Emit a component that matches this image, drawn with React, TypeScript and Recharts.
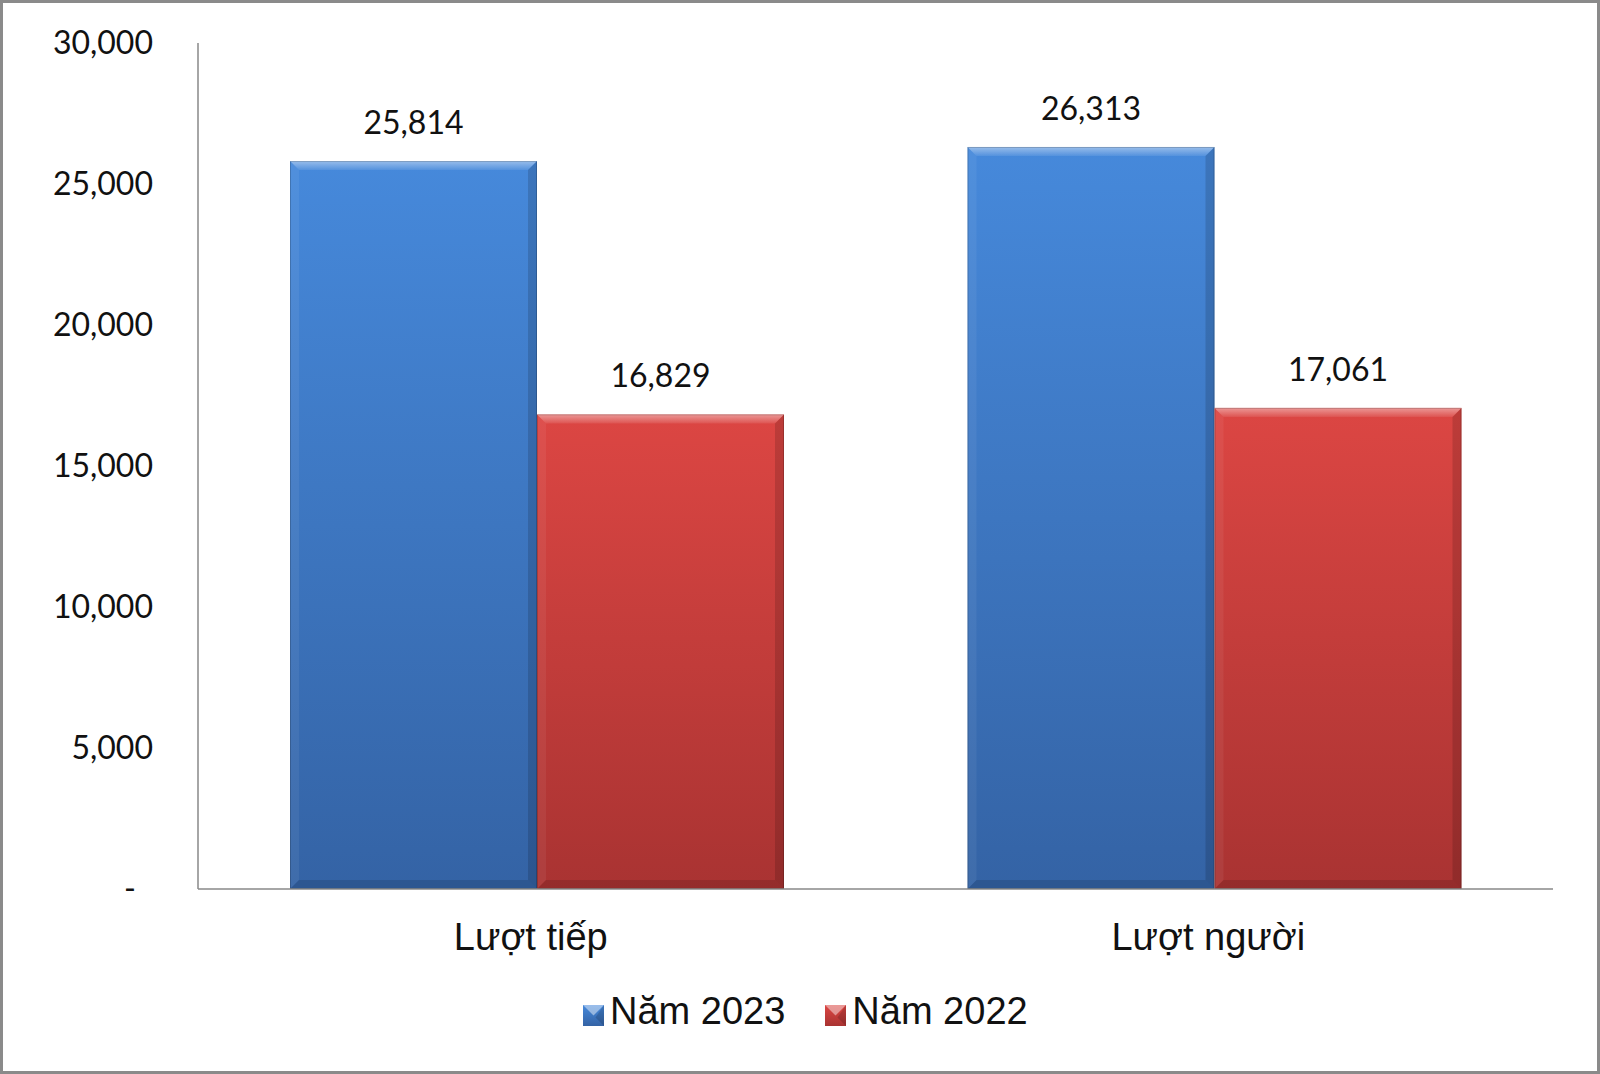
import React from "react";
import { BarChart, Bar, XAxis, YAxis, LabelList, Legend } from "recharts";

const categories = ["Lượt tiếp", "Lượt người"];
const nam2023 = [25814, 26313];
const nam2022 = [16829, 17061];
const yTicks = [0, 5000, 10000, 15000, 20000, 25000, 30000];
const seriesNames = ["Năm 2023", "Năm 2022"];

const data = categories.map((name, i) => ({
  name,
  y2023: nam2023[i],
  y2022: nam2022[i],
}));

const BLUE_TOP = "#4689db";
const BLUE_BOTTOM = "#3463a5";
const RED_TOP = "#dc4643";
const RED_BOTTOM = "#a93332";

const fmt = (v: number) => v.toLocaleString("en-US");

const makeBevelBar = (top: string, bottom: string, id: string) => (props: any) => {
  const { x, y, width: w, height: h, index } = props;
  if (!h || h <= 0) return null;
  const b = Math.min(9, w / 2, h / 2);
  const gid = `${id}-${index}`;
  const hid = `${id}-hl-${index}`;
  return (
    <g>
      <defs>
        <linearGradient id={gid} x1="0" y1="0" x2="0" y2="1">
          <stop offset="0%" stopColor={top} />
          <stop offset="100%" stopColor={bottom} />
        </linearGradient>
        <linearGradient id={hid} x1="0" y1="0" x2="0" y2="1">
          <stop offset="0%" stopColor="#ffffff" stopOpacity={0.45} />
          <stop offset="100%" stopColor="#ffffff" stopOpacity={0.08} />
        </linearGradient>
      </defs>
      <rect x={x} y={y} width={w} height={h} fill={`url(#${gid})`} />
      <polygon
        points={`${x},${y} ${x + w},${y} ${x + w - b},${y + b} ${x + b},${y + b}`}
        fill={`url(#${hid})`}
      />
      <polygon
        points={`${x},${y} ${x + b},${y + b} ${x + b},${y + h - b} ${x},${y + h}`}
        fill="#ffffff"
        fillOpacity={0.06}
      />
      <polygon
        points={`${x + w},${y} ${x + w},${y + h} ${x + w - b},${y + h - b} ${x + w - b},${y + b}`}
        fill="#000000"
        fillOpacity={0.14}
      />
      <polygon
        points={`${x},${y + h} ${x + b},${y + h - b} ${x + w - b},${y + h - b} ${x + w},${y + h}`}
        fill="#000000"
        fillOpacity={0.12}
      />
      <rect x={x + 0.5} y={y + 0.5} width={w - 1} height={h - 1} fill="none" stroke="#000" strokeOpacity={0.18} />
    </g>
  );
};

const YTick = (props: any) => {
  const { x, y, payload } = props;
  const v = payload.value as number;
  return (
    <text
      x={v === 0 ? x - 17 : x}
      y={y}
      dy="0.35em"
      textAnchor="end"
      fill="#111"
      fontFamily="Lato, 'Open Sans', sans-serif"
      fontSize={32}
    >
      {v === 0 ? "-" : fmt(v)}
    </text>
  );
};

const XTick = (props: any) => {
  const { x, y, payload } = props;
  return (
    <text
      x={x - 6}
      y={y}
      dy="0.71em"
      textAnchor="middle"
      fill="#111"
      fontFamily="'Liberation Sans', Arial, sans-serif"
      fontSize={38}
    >
      {payload.value}
    </text>
  );
};

const LegendIcon = ({ top, bottom }: { top: string; bottom: string }) => (
  <svg width={21} height={21} style={{ display: "block" }}>
    <defs>
      <linearGradient id={`lg-${top}`} x1="0" y1="0" x2="0" y2="1">
        <stop offset="0%" stopColor={top} />
        <stop offset="100%" stopColor={bottom} />
      </linearGradient>
    </defs>
    <rect x={0} y={0} width={21} height={21} fill={`url(#lg-${top})`} />
    <polygon points="0,0 21,0 10.5,10.5" fill="#ffffff" fillOpacity={0.45} />
    <polygon points="21,0 21,21 12.5,12.5" fill="#000" fillOpacity={0.15} />
  </svg>
);

const LegendContent = () => {
  const colors = [
    [BLUE_TOP, BLUE_BOTTOM],
    [RED_TOP, RED_BOTTOM],
  ];
  return (
    <div style={{ display: "flex", alignItems: "center" }}>
      {seriesNames.map((name, i) => (
        <div
          key={name}
          style={{ display: "flex", alignItems: "center", marginRight: i === 0 ? 40 : 0 }}
        >
          <div style={{ marginTop: 8, marginRight: 6 }}>
            <LegendIcon top={colors[i][0]} bottom={colors[i][1]} />
          </div>
          <span
            style={{
              fontFamily: "'Liberation Sans', Arial, sans-serif",
              fontSize: 38,
              lineHeight: "38px",
              color: "#111",
            }}
          >
            {name}
          </span>
        </div>
      ))}
    </div>
  );
};

export default function App() {
  return (
    <div
      style={{
        position: "absolute",
        left: 0,
        top: 0,
        width: 1600,
        height: 1074,
        boxSizing: "border-box",
        border: "3px solid #8a8a8a",
        background: "#ffffff",
      }}
    >
      <BarChart
        width={1594}
        height={1068}
        data={data}
        margin={{ top: 40, right: 44, bottom: 152, left: 0 }}
        barCategoryGap={92}
        barGap={0}
      >
        <XAxis
          dataKey="name"
          height={30}
          axisLine={{ stroke: "#888888", strokeWidth: 1.5 }}
          tickLine={false}
          tickSize={0}
          tickMargin={34}
          tick={<XTick />}
          interval={0}
        />
        <YAxis
          width={195}
          domain={[0, 30000]}
          ticks={yTicks}
          axisLine={{ stroke: "#888888", strokeWidth: 1.5 }}
          tickLine={false}
          tickSize={0}
          tickMargin={45}
          tick={<YTick />}
          interval={0}
        />
        <Legend
          layout="vertical"
          align="center"
          verticalAlign="middle"
          content={<LegendContent />}
          wrapperStyle={{ left: 580, top: 989, width: 600, height: 44 }}
        />
        <Bar
          dataKey="y2023"
          name={seriesNames[0]}
          fill={BLUE_TOP}
          shape={makeBevelBar(BLUE_TOP, BLUE_BOTTOM, "blue")}
          isAnimationActive={false}
        >
          <LabelList
            dataKey="y2023"
            position="top"
            offset={27}
            formatter={(v: any) => fmt(Number(v))}
            fill="#111"
            fontFamily="Lato, 'Open Sans', sans-serif"
            fontSize={32}
          />
        </Bar>
        <Bar
          dataKey="y2022"
          name={seriesNames[1]}
          fill={RED_TOP}
          shape={makeBevelBar(RED_TOP, RED_BOTTOM, "red")}
          isAnimationActive={false}
        >
          <LabelList
            dataKey="y2022"
            position="top"
            offset={27}
            formatter={(v: any) => fmt(Number(v))}
            fill="#111"
            fontFamily="Lato, 'Open Sans', sans-serif"
            fontSize={32}
          />
        </Bar>
      </BarChart>
    </div>
  );
}
